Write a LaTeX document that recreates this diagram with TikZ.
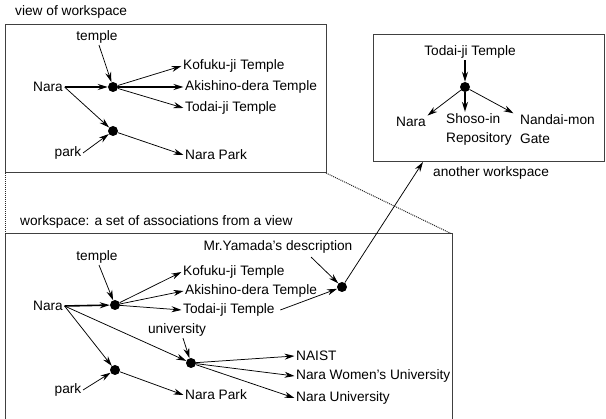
\documentclass[tikz,border=0pt]{standalone}
\usepackage{fontspec}
\setmainfont{Liberation Sans}
\usetikzlibrary{arrows.meta,calc}
\newcommand{\fs}{\fontsize{13.7pt}{19pt}\selectfont}
\begin{document}
\begin{tikzpicture}[x=1pt,y=-1pt,
  lbl/.style={inner sep=1.5pt, font=\fs},
  lblw/.style={lbl, anchor=west},
  dot/.style={circle, fill=black, inner sep=0pt, minimum size=10pt},
  arr/.style={-{Stealth[length=10pt,width=6pt]}, line width=0.75pt},
  thk/.style={arr, line width=1.6pt},
  frame/.style={draw=black!75, line width=1pt},
  dotline/.style={densely dotted, line width=1pt, draw=black!85}]
\useasboundingbox (0,0) rectangle (606,419);

% frames
\draw[frame] (5,25) rectangle (326,173);
\draw[frame] (373,35) rectangle (604,162);
\draw[frame] (5,425) -- (5,234) -- (452,234) -- (452,425);
\draw[dotline] (5,173) -- (5,234);
\draw[dotline] (326,173) -- (452,234);

% titles
\node[lblw] (t1) at (13.5,12) {view of workspace};
\node[lblw] (t2) at (18.5,222) {workspace: a set of associations from a view};
\node[lblw] (t3) at (431.5,173) {another workspace};

% ---- view of workspace
\node[lbl] (tmp1) at (97,37) {temple};
\node[lbl] (nara1) at (48,87) {Nara};
\node[dot] (d1) at (113,87) {};
\node[lblw] (kof1) at (181.5,66) {Kofuku-ji Temple};
\node[lblw] (aki1) at (183.5,87) {Akishino-dera Temple};
\node[lblw] (tod1) at (183.5,108) {Todai-ji Temple};
\node[dot] (d2) at (113,131) {};
\node[lbl] (park1) at (68,153) {park};
\node[lblw] (np1) at (183.5,155) {Nara Park};

\draw[arr] ([xshift=2pt]tmp1.south) -- (d1);
\draw[thk] (nara1.east) -- (d1);
\draw[arr] (d1) -- (kof1.west);
\draw[thk] (d1) -- (aki1.west);
\draw[arr] (d1) -- (tod1.west);
\draw[arr] (nara1.east) -- (d2);
\draw[arr] (park1.east) -- (d2);
\draw[arr] (d2) -- (np1.west);

% ---- workspace
\node[lbl] (tmp2) at (97,257) {temple};
\node[lbl] (nara2) at (48,306) {Nara};
\node[dot] (d3) at (115,305) {};
\node[lblw] (kof2) at (181.5,272) {Kofuku-ji Temple};
\node[lblw] (aki2) at (183.5,291) {Akishino-dera Temple};
\node[lblw] (tod2) at (181.5,310) {Todai-ji Temple};
\node[lbl] (univ) at (177,330) {university};
\node[dot] (du) at (191,363) {};
\node[lblw] (naist) at (294.5,356) {NAIST};
\node[lblw] (nwu) at (294.5,376) {Nara Women's University};
\node[lblw] (nu) at (294.5,398) {Nara University};
\node[dot] (dp) at (115,370) {};
\node[lbl] (park2) at (68,390) {park};
\node[lblw] (np2) at (183.5,395) {Nara Park};
\node[lbl] (myd) at (278,247) {Mr.Yamada's description};
\node[dot] (dm) at (342,287) {};
\coordinate (aw) at (423,162);

\draw[arr] ([xshift=2pt]tmp2.south) -- (d3);
\draw[thk] (nara2.east) -- (d3);
\draw[arr] (d3) -- (kof2.west);
\draw[arr] (d3) -- (aki2.west);
\draw[arr] (d3) -- (tod2.west);
\draw[arr] (nara2.east) -- (du);
\draw[arr] (nara2.east) -- (dp);
\draw[arr] (park2.east) -- (dp);
\draw[arr] (dp) -- (np2.west);
\draw[arr] ([xshift=6pt]univ.south) -- (du);
\draw[arr] (du) -- (naist.west);
\draw[arr] (du) -- (nwu.west);
\draw[arr] (du) -- (nu.west);
\draw[arr] ([xshift=-43pt,yshift=-2pt]myd.south east) -- (dm);
\draw[arr] ([xshift=4pt]tod2.east) -- (dm);
\draw[arr] (dm) -- (aw);

% ---- another workspace
\node[lbl] (tod3) at (470,52) {Todai-ji Temple};
\node[dot] (d4) at (465,87) {};
\node[lbl] (nara3) at (411,122) {Nara};
\node[lblw, align=left] (shoso) at (444.5,129.5) {Shoso-in\\Repository};
\node[lblw, align=left] (nandai) at (518.5,129.5) {Nandai-mon\\Gate};

\draw[thk] (d4 |- tod3.south) -- (d4);
\draw[arr] (d4) -- (nara3.north east);
\draw[thk] (d4) -- (d4 |- shoso.north);
\draw[arr] (d4) -- ([xshift=-5pt]nandai.north west);
\end{tikzpicture}
\end{document}
